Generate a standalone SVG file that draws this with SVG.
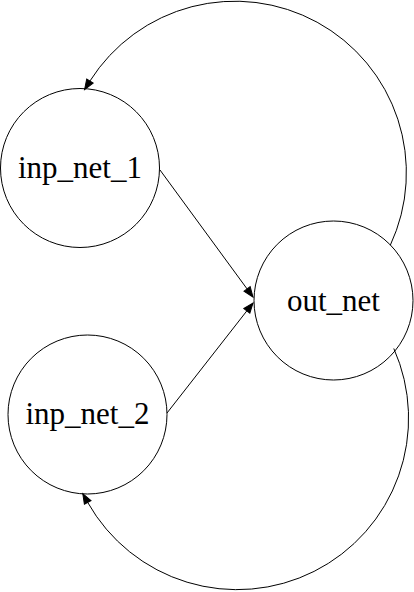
<svg xmlns="http://www.w3.org/2000/svg" width="414" height="592" viewBox="0 0 414 592">
<style>
.node circle{fill:#fff;stroke:#000;stroke-width:1}
.node text{font-size:31px;fill:#000;text-anchor:middle}
.edge{fill:none;stroke:#000;stroke-width:1;marker-end:url(#ah)}
</style>
<defs>
<marker id="ah" markerUnits="userSpaceOnUse" markerWidth="11" markerHeight="9" refX="10" refY="4" orient="auto" overflow="visible">
<path d="M0,0.2 L10,4 L0,7.8 z" fill="#000" stroke="#000" stroke-width="1"/>
</marker>
</defs>
<rect width="414" height="592" fill="#fff"/>
<g id="nodes" font-family="'Liberation Serif', 'Times New Roman', serif">
<g id="inp_net_1" class="node"><circle cx="80" cy="168" r="79.5"/><text x="80" y="178">inp_net_1</text></g>
<g id="out_net" class="node"><circle cx="333.5" cy="300.5" r="79.5"/><text x="333.5" y="310.5">out_net</text></g>
<g id="inp_net_2" class="node"><circle cx="87.5" cy="414.5" r="79.5"/><text x="87.5" y="424">inp_net_2</text></g>
</g>
<g id="connectors">
<path class="edge" d="M160,170 L253,297"/>
<path class="edge" d="M167,413 L253,303"/>
<path class="edge" d="M390.3,245.2 A171.5,171.5 0 0 0 89.96,80.99 L84.6,89.5"/>
<path class="edge" d="M393.8,348.5 A171.5,171.5 0 0 1 87.7,502.4 L82.8,493.7"/>
</g>
</svg>
